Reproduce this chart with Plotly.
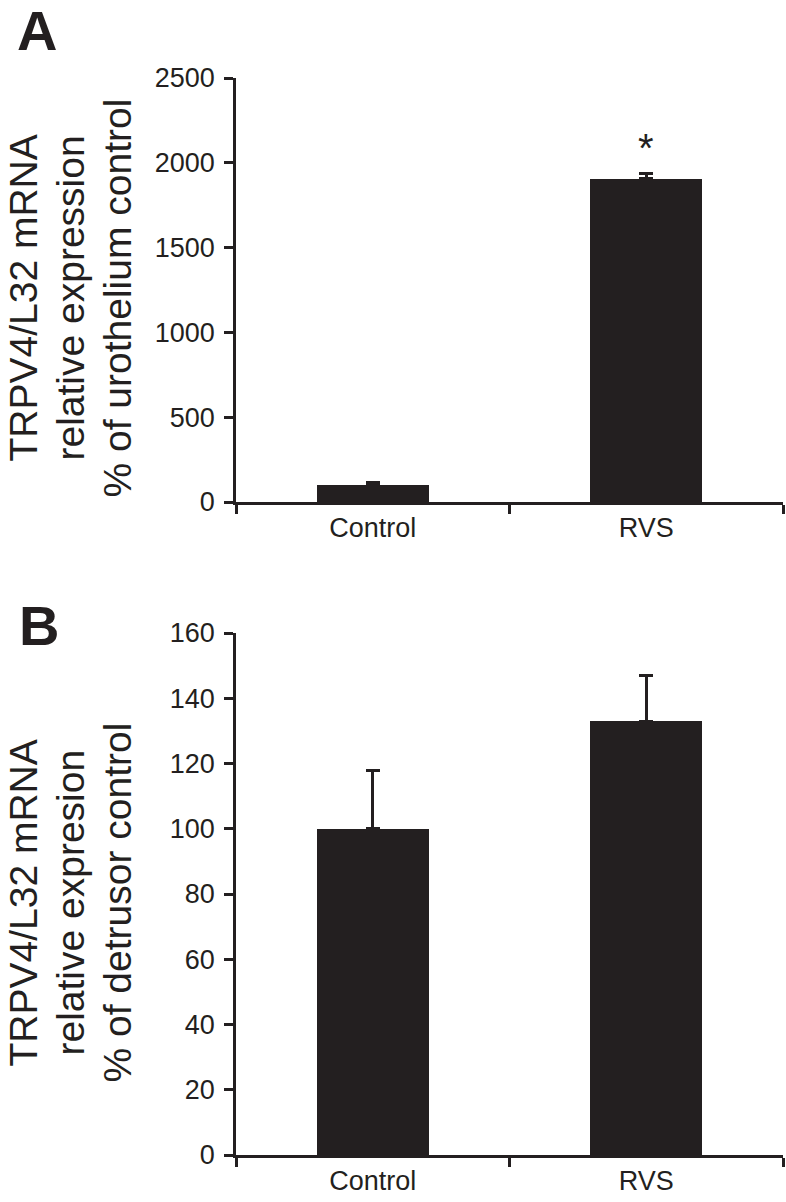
import plotly.graph_objects as go

# ---- data ----
categories = ["Control", "RVS"]
urothelium_mean = [103, 1905]
urothelium_err = [12, 30]
detrusor_mean = [100, 133]
detrusor_err = [18, 14]

y_ticks_a = [0, 500, 1000, 1500, 2000, 2500]
y_ticks_b = [0, 20, 40, 60, 80, 100, 120, 140, 160]

title_a_lines = ["TRPV4/L32 mRNA", "relative expression", "% of urothelium control"]
title_b_lines = ["TRPV4/L32 mRNA", "relative expresion", "% of detrusor control"]

INK = "#231f20"
FONT = "Arial, Liberation Sans, sans-serif"
W, H = 786, 1202


def px_y(p):
    return 1 - p / H


fig = go.Figure()

fig.add_trace(go.Bar(
    x=categories, y=urothelium_mean, width=0.41,
    marker=dict(color=INK, line=dict(width=0)),
    error_y=dict(type="data", array=urothelium_err, visible=True,
                 color=INK, thickness=3, width=7, symmetric=False,
                 arrayminus=[0, 0]),
    xaxis="x", yaxis="y", showlegend=False,
))
fig.add_trace(go.Bar(
    x=categories, y=detrusor_mean, width=0.41,
    marker=dict(color=INK, line=dict(width=0)),
    error_y=dict(type="data", array=detrusor_err, visible=True,
                 color=INK, thickness=3, width=7, symmetric=False,
                 arrayminus=[0, 0]),
    xaxis="x2", yaxis="y2", showlegend=False,
))

x_dom = [236 / W, 783 / W]
xcommon = dict(
    type="category", range=[-0.5, 1.5], tickson="boundaries",
    ticks="outside", ticklen=9, tickwidth=2.5, tickcolor=INK,
    showline=True, linewidth=2.5, linecolor=INK, showgrid=False,
    zeroline=False, tickfont=dict(family=FONT, size=27, color=INK),
    automargin=False, domain=x_dom, fixedrange=True,
)
ycommon = dict(
    ticks="outside", ticklen=9, tickwidth=2.5, tickcolor=INK,
    showline=True, linewidth=2.5, linecolor=INK, showgrid=False,
    zeroline=False, tickfont=dict(family=FONT, size=27, color=INK),
    automargin=False, ticklabelstandoff=4,
)

fig.update_layout(
    width=W, height=H,
    margin=dict(l=0, r=0, t=0, b=0),
    paper_bgcolor="white", plot_bgcolor="white",
    bargap=0,
    xaxis=dict(**xcommon, anchor="y"),
    yaxis=dict(**ycommon, range=[0, 2500], tickvals=y_ticks_a,
               domain=[px_y(502), px_y(78)], anchor="x"),
    xaxis2=dict(**xcommon, anchor="y2"),
    yaxis2=dict(**ycommon, range=[0, 160], tickvals=y_ticks_b,
                domain=[px_y(1155), px_y(633)], anchor="x2"),
)

annotations = [
    dict(text="<b>A</b>", x=37 / W, y=px_y(31), xref="paper", yref="paper",
         xanchor="center", yanchor="middle", showarrow=False,
         font=dict(family=FONT, size=56, color=INK)),
    dict(text="<b>B</b>", x=39 / W, y=px_y(625), xref="paper", yref="paper",
         xanchor="center", yanchor="middle", showarrow=False,
         font=dict(family=FONT, size=56, color=INK)),
    dict(text="*", x=categories[1], y=urothelium_mean[1] + urothelium_err[1],
         xref="x", yref="y", xanchor="center", yanchor="bottom",
         yshift=2, showarrow=False,
         font=dict(family=FONT, size=40, color=INK)),
]

line_lefts = [0, 47, 94]
for lines, yc in ((title_a_lines, 298), (title_b_lines, 903)):
    for txt, left in zip(lines, line_lefts):
        annotations.append(dict(
            text=txt, x=left / W, y=px_y(yc), xref="paper", yref="paper",
            xanchor="left", yanchor="middle", textangle=-90, showarrow=False,
            borderpad=0, font=dict(family=FONT, size=39, color=INK)))

fig.update_layout(annotations=annotations)

fig.write_html("out.html",
               config={"displayModeBar": False},
               post_script="document.body.style.margin='0';"
                           "document.body.style.overflow='hidden';")
